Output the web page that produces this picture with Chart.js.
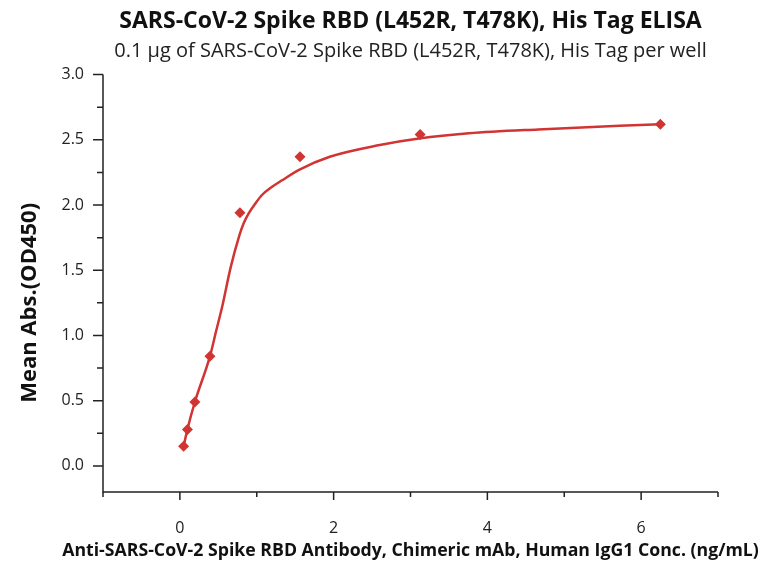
<!DOCTYPE html>
<html><head><meta charset="utf-8">
<script src="https://cdn.jsdelivr.net/npm/chart.js@4.4.1/dist/chart.umd.min.js"></script>
<style>html,body{margin:0;padding:0;background:#fff}#wrap{width:761px;height:566px}</style>
</head><body><div id="wrap"><canvas id="c" width="761" height="566"></canvas></div>
<script>
const conc = [0.049, 0.098, 0.195, 0.391, 0.781, 1.563, 3.125, 6.25];
const meanAbs = [0.15, 0.28, 0.49, 0.84, 1.94, 2.37, 2.54, 2.62];
const fitX = [0.049, 0.098, 0.195, 0.391, 0.47, 0.55, 0.66, 0.77, 0.83, 0.895, 0.98, 1.068, 1.2, 1.33, 1.55, 1.95, 2.6, 3.11, 3.76, 4.66, 6.25];
const fitY = [0.15, 0.28, 0.49, 0.84, 1.03, 1.22, 1.52, 1.76, 1.86, 1.936, 2.01, 2.077, 2.14, 2.19, 2.27, 2.37, 2.46, 2.51, 2.55, 2.58, 2.62];
const xMajor = [0, 2, 4, 6];
const xMinor = [-1, 1, 3, 5, 7];
const yMajor = [0, 0.5, 1.0, 1.5, 2.0, 2.5, 3.0];
const yMinor = [0.25, 0.75, 1.25, 1.75, 2.25, 2.75];
const yTitle = 'Mean Abs.(OD450)';
const xTitle = 'Anti-SARS-CoV-2 Spike RBD Antibody, Chimeric mAb, Human IgG1 Conc. (ng/mL)';

const RED = '#d03433';
const FONT = "'Open Sans', sans-serif";

const tickPlugin = {
  id: 'ticksDraw',
  afterDraw(chart) {
    const ctx = chart.ctx, xs = chart.scales.x, ys = chart.scales.y;
    const ca = chart.chartArea;
    ctx.save();
    ctx.strokeStyle = '#222';
    ctx.lineWidth = 1.5;
    ctx.beginPath();
    ctx.moveTo(ca.left, ca.top); ctx.lineTo(ca.left, ca.bottom); ctx.lineTo(ca.right, ca.bottom);
    ctx.stroke();
    const drawX = (v, len) => { const p = xs.getPixelForValue(v); ctx.moveTo(p, ca.bottom); ctx.lineTo(p, ca.bottom + len); };
    const drawY = (v, len) => { const p = ys.getPixelForValue(v); ctx.moveTo(ca.left, p); ctx.lineTo(ca.left - len, p); };
    ctx.beginPath();
    xMajor.forEach(v => drawX(v, 8));
    xMinor.forEach(v => drawX(v, 5));
    yMajor.forEach(v => drawY(v, 10));
    yMinor.forEach(v => drawY(v, 6));
    ctx.stroke();
    ctx.fillStyle = '#111';
    ctx.textAlign = 'center'; ctx.textBaseline = 'middle';
    // x axis title
    ctx.font = "bold 17.7px " + FONT;
    ctx.fillText(xTitle, (ca.left + ca.right) / 2, 551);
    // y axis title
    ctx.font = "bold 22px " + FONT;
    ctx.translate(30, ys.getPixelForValue(1.25));
    ctx.rotate(-Math.PI / 2);
    ctx.fillText(yTitle, 0, 0);
    ctx.restore();
  }
};

new Chart(document.getElementById('c'), {
  type: 'scatter',
  data: {
    datasets: [
      {
        label: 'fit', showLine: true, data: fitX.map((x, i) => ({x, y: fitY[i]})),
        borderColor: RED, borderWidth: 2.5, pointRadius: 0, cubicInterpolationMode: 'monotone', fill: false
      },
      {
        label: 'data', data: conc.map((x, i) => ({x, y: meanAbs[i]})),
        pointStyle: 'rectRot', pointRadius: 5.5, backgroundColor: RED, borderColor: RED, borderWidth: 0
      }
    ]
  },
  options: {
    responsive: false, animation: false,
    layout: { padding: { left: 8, right: 43, top: 8, bottom: 0 } },
    plugins: {
      legend: { display: false }, tooltip: { enabled: false },
      title: { display: true, fullSize: false, text: 'SARS-CoV-2 Spike RBD (L452R, T478K), His Tag ELISA',
        color: '#111', font: { family: FONT, size: 23, weight: 'bold' }, padding: { top: 0, bottom: 4 } },
      subtitle: { display: true, fullSize: false, text: '0.1 µg of SARS-CoV-2 Spike RBD (L452R, T478K), His Tag per well',
        color: '#222', font: { family: FONT, size: 20 }, padding: { top: 0, bottom: 11 } }
    },
    scales: {
      x: {
        type: 'linear', min: -1, max: 7,
        grid: { display: false, drawTicks: false }, border: { display: false },
        ticks: { color: '#222', font: { family: FONT, size: 16 }, padding: 27,
          callback: v => String(v) },
        afterBuildTicks: s => { s.ticks = xMajor.map(v => ({value: v})); },
        afterFit: s => { s.height = 74; },
        title: { display: false }
      },
      y: {
        type: 'linear', min: -0.2, max: 3.0,
        grid: { display: false, drawTicks: false }, border: { display: false },
        afterBuildTicks: s => { s.ticks = yMajor.map(v => ({value: v})); },
        afterFit: s => { s.width = 95; },
        ticks: { color: '#222', font: { family: FONT, size: 16 }, padding: 19,
          callback: v => v.toFixed(1) },
        title: { display: false }
      }
    }
  },
  plugins: [tickPlugin]
});
</script></body></html>
